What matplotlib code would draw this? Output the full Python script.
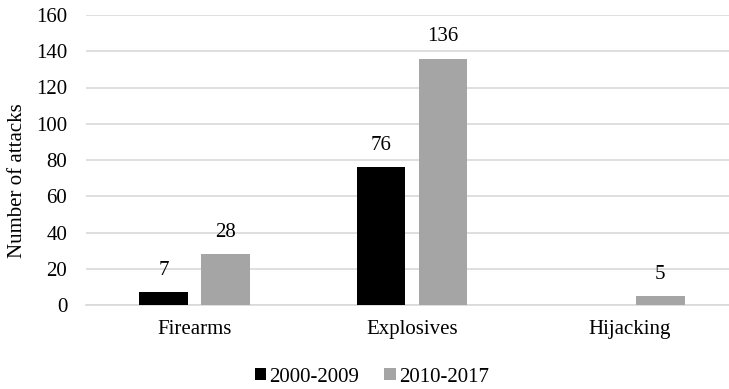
import matplotlib.pyplot as plt
import numpy as np

categories = ['Firearms', 'Explosives', 'Hijacking']
series_names = ['2000-2009', '2010-2017']
attacks_2000_2009 = [7, 76, 0]
attacks_2010_2017 = [28, 136, 5]
yticks = [0, 20, 40, 60, 80, 100, 120, 140, 160]

plt.rcParams['font.family'] = ['Liberation Serif', 'DejaVu Serif']
plt.rcParams['font.size'] = 15

fig = plt.figure(figsize=(7.29, 3.89), dpi=100)
ax = fig.add_axes([86 / 729, 1 - 305 / 389, 652 / 729, 290 / 389])

x = np.arange(len(categories))
w = 0.225
off = 0.1425
b1 = ax.bar(x - off, attacks_2000_2009, w, color='#000000', label=series_names[0], zorder=3)
b2 = ax.bar(x + off, attacks_2010_2017, w, color='#a5a5a5', label=series_names[1], zorder=3)

# value labels above bars, skip empty bars
for bars, vals in ((b1, attacks_2000_2009), (b2, attacks_2010_2017)):
    for rect, v in zip(bars, vals):
        if v == 0:
            continue
        ax.text(rect.get_x() + rect.get_width() / 2, v + 9.5, str(v),
                ha='center', va='baseline')

ax.set_xlim(-0.5, 2.5)
ax.set_ylim(0, 160)
ax.set_yticks(yticks)
ax.set_xticks(x)
ax.set_xticklabels(categories)
ax.yaxis.grid(True, color='#d9d9d9', linewidth=1.2, zorder=0)
ax.set_axisbelow(True)
for s in ['top', 'right', 'left']:
    ax.spines[s].set_visible(False)
ax.spines['bottom'].set_color('#d9d9d9')
ax.spines['bottom'].set_linewidth(1.2)
ax.tick_params(axis='both', length=0)
ax.tick_params(axis='y', pad=13.5)
ax.tick_params(axis='x', pad=11)
fig.text(18 / 729, 1 - 181 / 389, 'Number of attacks', rotation=90,
         ha='center', va='center')

fig.legend(handles=[b1, b2], loc='center', bbox_to_anchor=(372 / 729, 1 - 377 / 389),
           ncol=2, frameon=False, handlelength=0.55, handleheight=0.55,
           handletextpad=0.15, columnspacing=1.2, borderaxespad=0)

fig.savefig('out.png', dpi=100)
